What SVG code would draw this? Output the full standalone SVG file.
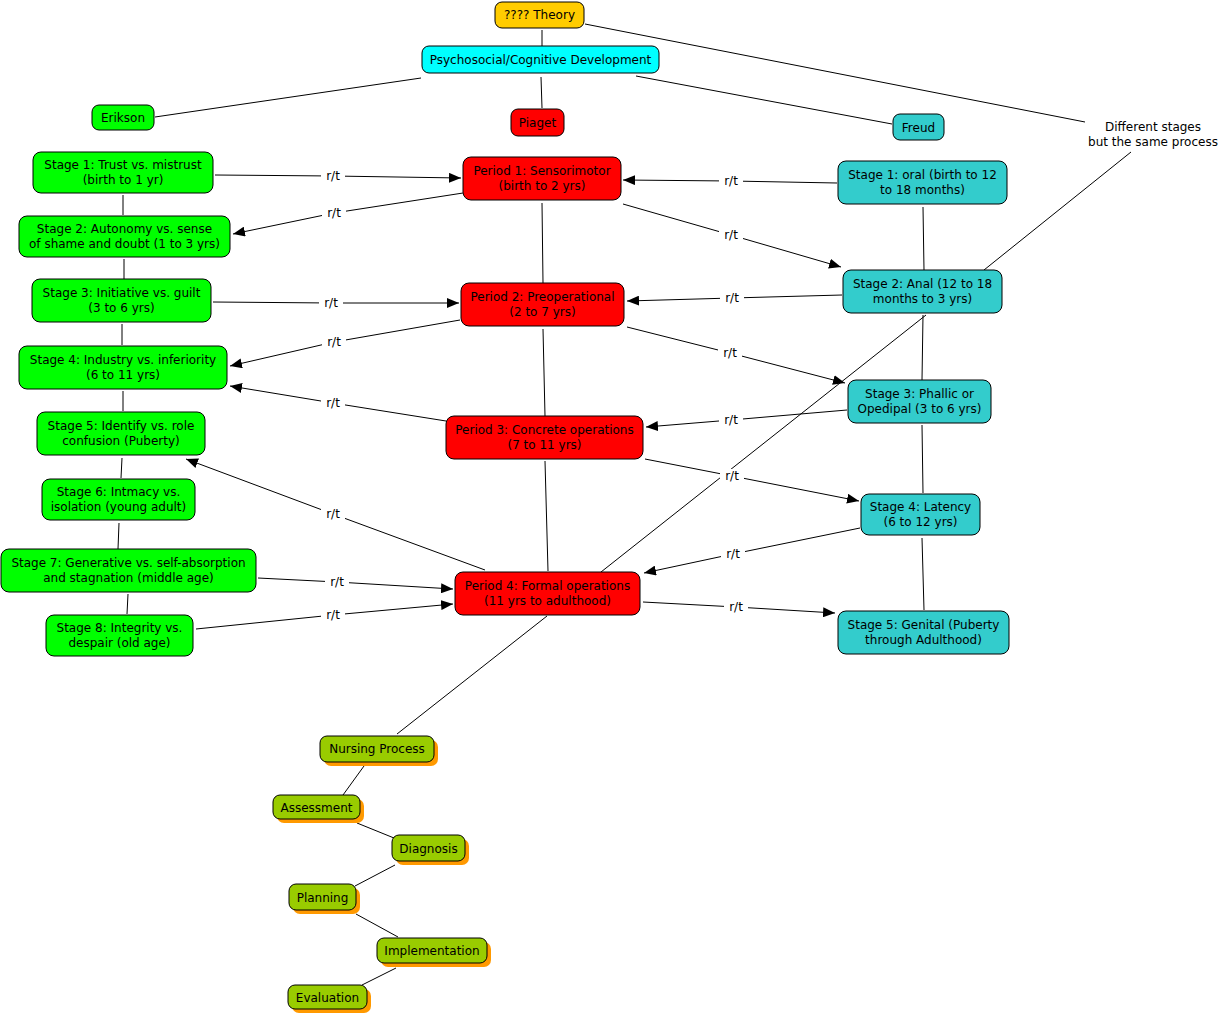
<svg xmlns="http://www.w3.org/2000/svg" width="1221" height="1015" viewBox="0 0 1221 1015">
<style>
text{font-family:"DejaVu Sans",Verdana,sans-serif;font-size:12px;fill:#000;text-anchor:middle}
.n rect{stroke:#000;stroke-width:1}
.gold{fill:#FFCC00}.cyan{fill:#00FFFF}.lime{fill:#00FF00}.red{fill:#FF0000}.teal{fill:#33CCCC}.olive{fill:#99CC00}
.sh{fill:#FF9900;stroke:none!important}
.c line,.c polyline{stroke:#000;stroke-width:1;fill:none}
.a{marker-end:url(#ah)}
.lb{fill:#fff;stroke:none}
</style>
<defs>
<marker id="ah" markerUnits="userSpaceOnUse" markerWidth="13" markerHeight="10" refX="12" refY="5" orient="auto">
<path d="M0,0 L12,5 L0,10 z" fill="#000"/>
</marker>
</defs>
<rect width="1221" height="1015" fill="#fff"/>
<g id="connectors" class="c">
<line x1="542" y1="30" x2="542" y2="46"/>
<line x1="585" y1="24" x2="1085" y2="122"/>
<line x1="421" y1="78" x2="155" y2="117"/>
<line x1="541" y1="77" x2="542" y2="108"/>
<line x1="636" y1="76" x2="892" y2="124"/>
<line x1="1131" y1="152" x2="984" y2="270"/>
<line x1="926" y1="315" x2="601" y2="572"/>
<line x1="547" y1="616" x2="397" y2="734"/>
<line x1="123" y1="195" x2="123" y2="215"/>
<line x1="124" y1="259" x2="124" y2="279"/>
<line x1="122" y1="324" x2="122" y2="345"/>
<line x1="123" y1="391" x2="123" y2="411"/>
<line x1="122" y1="458" x2="121" y2="478"/>
<line x1="119" y1="523" x2="118" y2="549"/>
<line x1="128" y1="594" x2="127" y2="614"/>
<line x1="542" y1="203" x2="543" y2="283"/>
<line x1="543" y1="329" x2="545" y2="416"/>
<line x1="545" y1="461" x2="548" y2="571"/>
<line x1="923" y1="207" x2="924" y2="270"/>
<line x1="923" y1="315" x2="922" y2="380"/>
<line x1="922" y1="425" x2="923" y2="493"/>
<line x1="922" y1="538" x2="924" y2="610"/>
<line x1="364" y1="766" x2="343" y2="795"/>
<line x1="357" y1="823" x2="394" y2="838"/>
<line x1="395" y1="865" x2="355" y2="886"/>
<line x1="356" y1="914" x2="398" y2="937"/>
<line x1="396" y1="968" x2="362" y2="985"/>
<polyline class="a" points="215,175 333,176 461,178"/>
<polyline class="a" points="463,193 334,213 233,234"/>
<polyline class="a" points="213,302 331,303 459,303"/>
<polyline class="a" points="460,320 334,342 230,366"/>
<polyline class="a" points="446,421 333,403 230,386"/>
<polyline class="a" points="485,570 333,514 186,459"/>
<polyline class="a" points="258,578 337,582 453,589"/>
<polyline class="a" points="196,629 333,615 453,604"/>
<polyline class="a" points="837,183 731,181 623,180"/>
<polyline class="a" points="623,204 731,235 841,267"/>
<polyline class="a" points="842,295 732,298 627,301"/>
<polyline class="a" points="627,327 730,353 845,383"/>
<polyline class="a" points="847,410 731,420 646,427"/>
<polyline class="a" points="645,459 732,476 859,501"/>
<polyline class="a" points="860,528 733,554 644,573"/>
<polyline class="a" points="643,602 736,607 835,613"/>
<rect class="lb" x="321" y="169" width="24" height="14"/><text x="333" y="180">r/t</text>
<rect class="lb" x="322" y="206" width="24" height="14"/><text x="334" y="217">r/t</text>
<rect class="lb" x="319" y="296" width="24" height="14"/><text x="331" y="307">r/t</text>
<rect class="lb" x="322" y="335" width="24" height="14"/><text x="334" y="346">r/t</text>
<rect class="lb" x="321" y="396" width="24" height="14"/><text x="333" y="407">r/t</text>
<rect class="lb" x="321" y="507" width="24" height="14"/><text x="333" y="518">r/t</text>
<rect class="lb" x="325" y="575" width="24" height="14"/><text x="337" y="586">r/t</text>
<rect class="lb" x="321" y="608" width="24" height="14"/><text x="333" y="619">r/t</text>
<rect class="lb" x="719" y="174" width="24" height="14"/><text x="731" y="185">r/t</text>
<rect class="lb" x="719" y="228" width="24" height="14"/><text x="731" y="239">r/t</text>
<rect class="lb" x="720" y="291" width="24" height="14"/><text x="732" y="302">r/t</text>
<rect class="lb" x="718" y="346" width="24" height="14"/><text x="730" y="357">r/t</text>
<rect class="lb" x="719" y="413" width="24" height="14"/><text x="731" y="424">r/t</text>
<rect class="lb" x="720" y="469" width="24" height="14"/><text x="732" y="480">r/t</text>
<rect class="lb" x="721" y="547" width="24" height="14"/><text x="733" y="558">r/t</text>
<rect class="lb" x="724" y="600" width="24" height="14"/><text x="736" y="611">r/t</text>
</g>
<g id="theory" class="n"><rect class="gold" x="495" y="2" width="89" height="26" rx="7"/><text x="539.5" y="19">???? Theory</text></g>
<g id="psych" class="n"><rect class="cyan" x="422" y="46" width="237" height="27" rx="7"/><text x="540.5" y="63.5">Psychosocial/Cognitive Development</text></g>
<g id="erikson" class="n"><rect class="lime" x="92" y="105" width="62" height="25" rx="7"/><text x="123" y="122">Erikson</text></g>
<g id="piaget" class="n"><rect class="red" x="511" y="109" width="53" height="27" rx="7"/><text x="537.5" y="127">Piaget</text></g>
<g id="freud" class="n"><rect class="teal" x="893" y="114" width="51" height="26" rx="7"/><text x="918.5" y="131.5">Freud</text></g>
<g id="different"><text x="1153" y="131">Different stages</text><text x="1153" y="146">but the same process</text></g>
<g id="e1" class="n"><rect class="lime" x="33" y="152" width="180" height="41" rx="8"/><text x="123" y="169">Stage 1: Trust vs. mistrust</text><text x="123" y="184">(birth to 1 yr)</text></g>
<g id="e2" class="n"><rect class="lime" x="19" y="216" width="211" height="41" rx="8"/><text x="124.5" y="233">Stage 2: Autonomy vs. sense</text><text x="124.5" y="248">of shame and doubt (1 to 3 yrs)</text></g>
<g id="e3" class="n"><rect class="lime" x="32" y="279" width="179" height="43" rx="8"/><text x="121.5" y="297">Stage 3: Initiative vs. guilt</text><text x="121.5" y="312">(3 to 6 yrs)</text></g>
<g id="e4" class="n"><rect class="lime" x="19" y="346" width="208" height="43" rx="8"/><text x="123" y="364">Stage 4: Industry vs. inferiority</text><text x="123" y="379">(6 to 11 yrs)</text></g>
<g id="e5" class="n"><rect class="lime" x="37" y="412" width="168" height="43" rx="8"/><text x="121" y="430">Stage 5: Identify vs. role</text><text x="121" y="445">confusion (Puberty)</text></g>
<g id="e6" class="n"><rect class="lime" x="42" y="479" width="153" height="41" rx="8"/><text x="118.5" y="496">Stage 6: Intmacy vs.</text><text x="118.5" y="511">isolation (young adult)</text></g>
<g id="e7" class="n"><rect class="lime" x="1" y="549" width="255" height="43" rx="8"/><text x="128.5" y="567">Stage 7: Generative vs. self-absorption</text><text x="128.5" y="582">and stagnation (middle age)</text></g>
<g id="e8" class="n"><rect class="lime" x="46" y="615" width="147" height="41" rx="8"/><text x="119.5" y="632">Stage 8: Integrity vs.</text><text x="119.5" y="647">despair (old age)</text></g>
<g id="p1" class="n"><rect class="red" x="463" y="157" width="158" height="43" rx="8"/><text x="542" y="175">Period 1: Sensorimotor</text><text x="542" y="190">(birth to 2 yrs)</text></g>
<g id="p2" class="n"><rect class="red" x="461" y="283" width="163" height="43" rx="8"/><text x="542.5" y="301">Period 2: Preoperational</text><text x="542.5" y="316">(2 to 7 yrs)</text></g>
<g id="p3" class="n"><rect class="red" x="446" y="416" width="197" height="43" rx="8"/><text x="544.5" y="434">Period 3: Concrete operations</text><text x="544.5" y="449">(7 to 11 yrs)</text></g>
<g id="p4" class="n"><rect class="red" x="455" y="572" width="185" height="43" rx="8"/><text x="547.5" y="590">Period 4: Formal operations</text><text x="547.5" y="605">(11 yrs to adulthood)</text></g>
<g id="f1" class="n"><rect class="teal" x="838" y="161" width="169" height="43" rx="8"/><text x="922.5" y="179">Stage 1: oral (birth to 12</text><text x="922.5" y="194">to 18 months)</text></g>
<g id="f2" class="n"><rect class="teal" x="843" y="270" width="159" height="43" rx="8"/><text x="922.5" y="288">Stage 2: Anal (12 to 18</text><text x="922.5" y="303">months to 3 yrs)</text></g>
<g id="f3" class="n"><rect class="teal" x="848" y="380" width="143" height="43" rx="8"/><text x="919.5" y="398">Stage 3: Phallic or</text><text x="919.5" y="413">Opedipal (3 to 6 yrs)</text></g>
<g id="f4" class="n"><rect class="teal" x="861" y="494" width="119" height="41" rx="8"/><text x="920.5" y="511">Stage 4: Latency</text><text x="920.5" y="526">(6 to 12 yrs)</text></g>
<g id="f5" class="n"><rect class="teal" x="838" y="611" width="171" height="43" rx="8"/><text x="923.5" y="629">Stage 5: Genital (Puberty</text><text x="923.5" y="644">through Adulthood)</text></g>
<g id="nursing" class="n"><rect class="sh" x="324" y="740" width="114" height="26" rx="7"/><rect class="olive" x="320" y="736" width="114" height="26" rx="7"/><text x="377" y="753">Nursing Process</text></g>
<g id="assessment" class="n"><rect class="sh" x="277" y="799" width="87" height="24" rx="7"/><rect class="olive" x="273" y="795" width="87" height="24" rx="7"/><text x="316.5" y="811.5">Assessment</text></g>
<g id="diagnosis" class="n"><rect class="sh" x="396" y="839" width="73" height="26" rx="7"/><rect class="olive" x="392" y="835" width="73" height="26" rx="7"/><text x="428.5" y="852.5">Diagnosis</text></g>
<g id="planning" class="n"><rect class="sh" x="293" y="888" width="67" height="26" rx="7"/><rect class="olive" x="289" y="884" width="67" height="26" rx="7"/><text x="322.5" y="901.5">Planning</text></g>
<g id="implementation" class="n"><rect class="sh" x="381" y="942" width="110" height="25" rx="7"/><rect class="olive" x="377" y="938" width="110" height="25" rx="7"/><text x="432" y="955">Implementation</text></g>
<g id="evaluation" class="n"><rect class="sh" x="292" y="989" width="79" height="24" rx="7"/><rect class="olive" x="288" y="985" width="79" height="24" rx="7"/><text x="327.5" y="1001.5">Evaluation</text></g>
</svg>
